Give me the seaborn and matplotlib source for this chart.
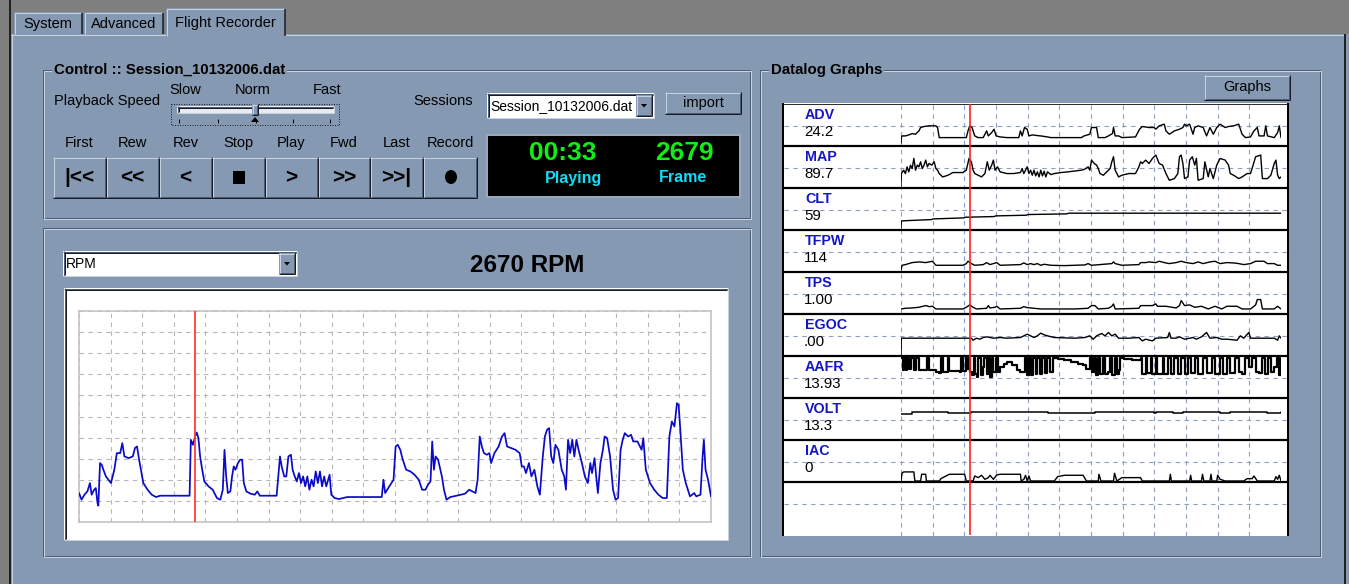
import matplotlib
matplotlib.use("Agg")
import matplotlib.pyplot as plt
from matplotlib.patches import Rectangle, Polygon, Ellipse
import numpy as np
import seaborn as sns

# ---------------- data ----------------
tab_labels = ["System", "Advanced", "Flight Recorder"]
control_title = "Control :: Session_10132006.dat"
speed_labels = ["Slow", "Norm", "Fast"]
session_file = "Session_10132006.dat"
button_labels = ["First", "Rew", "Rev", "Stop", "Play", "Fwd", "Last", "Record"]
button_symbols = ["|<<", "<<", "<", "\u25A0", ">", ">>", ">>|", "\u25CF"]
elapsed_time = "00:33"
frame_number = "2679"
channel_name = "RPM"
current_rpm = 2670

# RPM trace: (sample, rpm)
rpm_cursor = 276
rpm_tmax = 1503
rpm_ymax = 6340
rpm_trace = [
    (0,870),(6,670),(13,820),(20,920),(26,1170),(30,820),(36,970),(40,1020),(44,570),(46,490),
    (50,1770),(54,1720),(58,1570),(64,1370),(70,1270),(76,1170),(80,1370),(84,1570),(90,2070),(98,2070),
    (103,2370),(108,1970),(118,1920),(128,1970),(133,2220),(138,2270),(143,1870),(148,1520),(153,1170),(163,970),
    (173,820),(183,750),(193,790),(263,790),(266,2470),(271,2320),(276,2570),(280,2690),(284,2520),(288,1970),
    (293,1570),(298,1220),(308,1070),(318,970),(328,720),(336,670),(342,970),(346,2170),(350,1370),(354,870),
    (360,920),(364,1370),(368,1670),(372,1570),(378,1770),(383,1870),(388,1870),(392,1170),(398,920),(408,850),
    (418,820),(424,920),(430,790),(470,790),(474,1370),(478,1970),(482,1670),(488,1370),(493,1370),(498,1970),
    (504,2020),(508,1570),(513,1370),(518,1220),(523,1470),(528,1170),(533,1370),(538,1070),(543,1370),(548,970),
    (553,1270),(558,1070),(563,1520),(568,1170),(573,1520),(578,1070),(583,1370),(588,1070),(596,1420),(600,820),
    (608,720),(618,690),(638,750),(720,750),(724,1270),(728,870),(733,970),(748,1270),(753,2270),(758,2320),
    (764,2170),(770,1870),(778,1570),(788,1520),(798,1420),(808,1270),(816,970),(824,970),(830,1120),(836,1220),
    (840,2420),(844,1570),(848,1970),(854,1870),(863,1370),(868,970),(874,670),(883,750),(898,790),(918,850),
    (928,970),(943,870),(948,1270),(953,2570),(958,2270),(963,2070),(970,2020),(976,2070),(980,1770),(988,2070),
    (998,2270),(1006,2570),(1012,2670),(1018,2270),(1028,2220),(1038,2170),(1048,2070),(1053,1670),(1058,1670),(1063,1470),
    (1070,1770),(1076,1370),(1083,1570),(1090,1070),(1096,820),(1103,1970),(1108,2570),(1113,2770),(1118,2820),(1123,1970),
    (1128,1770),(1133,2320),(1140,2170),(1148,1570),(1154,1370),(1158,970),(1163,2470),(1168,2070),(1173,2470),(1178,1970),
    (1183,2470),(1188,2170),(1196,1770),(1203,1370),(1210,1170),(1216,1770),(1220,1470),(1226,1920),(1230,1370),(1234,870),
    (1240,1770),(1246,2170),(1250,2570),(1256,2520),(1263,1970),(1270,970),(1276,670),(1282,720),(1288,2170),(1293,2470),
    (1298,2670),(1306,2570),(1313,2620),(1318,2420),(1328,2420),(1338,2170),(1342,2520),(1348,1570),(1358,1170),(1368,970),
    (1378,820),(1388,720),(1398,720),(1404,2570),(1410,3020),(1416,2870),(1422,3570),(1426,3520),(1430,2770),(1436,1570),
    (1443,1170),(1453,770),(1463,870),(1468,770),(1478,820),(1483,1970),(1486,2470),(1490,1570),(1496,1270),(1503,770),
]

# Datalog strips: (sample, level in strip units 0..125)
log_names = ["ADV", "MAP", "CLT", "TFPW", "TPS", "EGOC", "AAFR", "VOLT", "IAC"]
log_values = ["24.2", "89.7", "59", "114", "1.00", ".00", "13.93", "13.3", "0"]
log_cursor = 204
log_tmax = 1123
log_ymax = 125

adv = [(0,8),(1,25),(3,30),(13,30),(23,33),(33,37),(43,35),(53,45),(58,55),(68,58),(83,60),(103,60),(108,55),(113,25),
       (193,25),(198,45),(203,60),(210,55),(218,30),(228,25),(243,25),(253,45),(258,30),(268,40),(275,50),(281,30),
       (293,27),(313,25),(348,25),(353,45),(358,30),(365,55),(373,50),(378,30),(388,33),(403,31),(413,30),(433,27),
       (443,25),(533,25),(541,30),(558,35),(563,55),(578,55),(583,25),(603,25),(613,30),(625,37),(628,55),(633,30),
       (643,30),(653,25),(693,27),(705,50),(713,58),(733,55),(748,55),(753,50),(763,60),(778,65),(783,45),(793,35),
       (808,45),(823,50),(833,55),(838,65),(843,60),(853,65),(863,35),(868,55),(878,60),(893,55),(903,30),(913,55),
       (923,35),(933,55),(943,65),(958,55),(968,58),(983,60),(998,65),(1008,35),(1018,25),(1033,27),(1043,45),(1053,55),
       (1058,30),(1073,30),(1078,60),(1083,30),(1103,25),(1113,40),(1118,60),(1123,25)]
map_ = [(0,6),(1,43),(8,53),(13,43),(18,63),(23,48),(28,68),(33,58),(38,88),(43,53),(48,68),(53,63),(58,78),(63,58),
        (68,68),(73,83),(78,63),(83,73),(91,68),(98,78),(103,58),(108,53),(113,43),(123,33),(133,36),(143,40),(153,46),
        (183,46),(193,53),(201,88),(208,78),(213,53),(218,43),(228,38),(238,33),(248,43),(255,78),(261,53),(268,68),
        (273,83),(278,53),(285,63),(293,48),(313,43),(333,43),(353,46),(358,58),(363,43),(368,53),(373,63),(378,43),
        (383,53),(388,38),(393,53),(398,36),(403,48),(408,33),(413,53),(418,36),(423,50),(428,33),(433,48),(443,40),
        (453,43),(473,46),(493,48),(533,53),(543,56),(553,63),(558,53),(563,83),(571,73),(578,68),(583,58),(588,43),
        (598,38),(608,48),(618,58),(623,78),(628,93),(633,53),(638,43),(643,33),(653,38),(673,43),(693,43),(703,63),
        (708,78),(713,73),(723,83),(733,73),(743,88),(753,98),(763,73),(773,68),(783,43),(793,23),(808,28),(818,43),
        (823,93),(828,98),(833,73),(838,28),(848,33),(853,83),(861,93),(868,68),(873,88),(878,23),(893,28),(898,78),
        (908,33),(913,58),(923,28),(933,68),(943,88),(958,83),(968,68),(973,43),(983,38),(998,28),(1008,33),(1023,43),
        (1033,43),(1048,93),(1063,98),(1068,28),(1083,28),(1093,38),(1103,73),(1108,83),(1113,38),(1118,28),(1123,33)]
clt = [(0,5),(1,27),(20,28),(90,31),(95,33),(185,36),(190,38),(275,40),(280,42),(370,44),(375,46),(490,48),(495,50),
       (1123,50)]
tfpw = [(0,5),(3,20),(13,22),(33,28),(53,30),(73,28),(93,32),(103,20),(183,20),(193,25),(198,32),(208,25),(218,20),
        (243,22),(253,28),(263,22),(273,25),(283,28),(293,20),(353,22),(363,27),(373,22),(383,25),(393,22),(403,25),
        (413,20),(423,23),(443,20),(483,19),(543,21),(553,25),(563,20),(623,25),(628,30),(633,25),(653,20),(703,22),
        (708,28),(723,28),(733,30),(753,28),(763,32),(778,28),(793,25),(813,28),(828,32),(843,28),(863,25),(878,30),
        (893,25),(913,30),(928,32),(943,25),(963,28),(983,27),(998,25),(1013,22),(1033,25),(1048,32),(1073,32),
        (1083,25),(1103,25),(1113,20),(1123,20)]
tps = [(0,15),(13,17),(33,18),(53,20),(73,25),(83,22),(93,23),(103,15),(183,15),(193,20),(203,27),(213,20),(223,15),
       (253,17),(258,25),(263,18),(278,20),(283,23),(293,15),(353,17),(363,22),(373,19),(393,17),(413,15),(513,15),
       (553,17),(563,25),(573,25),(583,15),(613,17),(623,23),(628,30),(633,15),(703,17),(708,25),(743,25),(753,30),
       (758,23),(783,23),(813,18),(823,25),(828,40),(838,25),(853,27),(868,20),(888,23),(908,15),(928,23),(948,15),
       (963,23),(993,23),(1008,15),(1033,15),(1048,27),(1053,43),(1063,43),(1068,15),(1103,15),(1113,23),(1123,15)]
egoc = [(0,0),(1,53),(208,53),(213,47),(223,53),(233,50),(243,55),(253,57),(273,53),(293,55),(313,53),(353,55),
        (363,60),(373,65),(383,60),(393,55),(403,60),(413,68),(423,63),(433,60),(453,55),(513,53),(543,55),(558,60),
        (568,50),(578,60),(593,67),(603,60),(613,70),(623,60),(633,65),(643,53),(673,53),(703,55),(713,45),(723,50),
        (743,45),(753,53),(788,55),(793,70),(798,53),(813,53),(823,57),(838,50),(863,55),(873,50),(888,57),(903,70),
        (913,53),(933,55),(948,50),(963,50),(993,47),(1003,60),(1013,53),(1028,70),(1033,53),(1063,53),(1103,53),
        (1113,47),(1118,60),(1123,53)]
aafr = [(0,120),(5,82),(9,120),(15,82),(19,120),(25,87),(31,120),(38,82),(43,120),(53,82),(73,82),(78,120),(83,82),
        (103,77),(113,74),(118,120),(123,77),(133,77),(138,120),(143,80),(173,77),(178,120),(183,80),(191,120),(195,87),
        (201,120),(205,77),(211,67),(215,120),(219,72),(225,62),(229,120),(235,67),(241,92),(245,120),(253,70),(258,120),
        (263,62),(268,120),(273,77),(281,120),(288,77),(293,92),(303,102),(313,107),(328,97),(343,82),(353,77),(365,120),
        (371,67),(378,120),(385,67),(391,120),(398,72),(403,120),(411,70),(418,120),(425,74),(431,120),(439,77),(448,120),
        (463,117),(483,112),(503,107),(523,102),(538,97),(548,87),(558,120),(563,77),(571,120),(575,67),(581,120),(588,72),
        (598,120),(603,70),(613,77),(618,120),(625,67),(633,120),(638,70),(643,82),(648,120),(658,117),(683,114),(698,112),
        (708,120),(713,72),(723,120),(728,74),(738,120),(743,72),(753,120),(758,70),(773,120),(778,72),(788,120),(798,70),
        (808,120),(818,72),(828,120),(838,70),(848,120),(858,74),(868,120),(878,70),(893,120),(903,74),(918,120),(928,72),
        (943,120),(953,70),(963,120),(973,74),(988,120),(998,77),(1008,70),(1018,120),(1028,92),(1038,120),(1048,77),
        (1058,74),(1068,120),(1075,72),(1085,120),(1093,77),(1103,92),(1111,120),(1116,67),(1123,120)]
volt = [(0,78),(23,78),(33,83),(133,83),(138,79),(203,79),(208,83),(428,83),(433,79),(568,79),(573,83),(743,83),
        (748,79),(753,83),(798,83),(803,79),(828,79),(833,83),(938,83),(943,79),(968,79),(973,83),(1078,83),(1083,79),
        (1118,79),(1123,83)]
iac = [(0,3),(3,26),(8,30),(38,30),(41,3),(58,3),(61,23),(73,23),(75,3),(113,3),(118,10),(133,18),(143,23),(188,23),
       (193,3),(213,3),(218,18),(228,13),(238,20),(248,8),(258,13),(263,20),(273,8),(283,21),(293,23),(353,23),(355,3),
       (363,8),(368,20),(373,3),(378,18),(383,3),(453,3),(463,16),(483,20),(538,20),(548,3),(583,3),(585,23),(591,3),
       (628,3),(631,26),(638,3),(653,13),(708,13),(713,3),(793,3),(796,23),(799,3),(853,3),(856,20),(859,3),(888,3),
       (891,23),(895,3),(913,3),(916,23),(919,3),(933,3),(936,20),(943,8),(958,3),(1013,3),(1023,10),(1038,10),
       (1043,18),(1053,3),(1103,3),(1108,16),(1113,8),(1118,20),(1123,3)]
log_series = [adv, map_, clt, tfpw, tps, egoc, aafr, volt, iac]

# ---------------- styling ----------------
W, H = 1349, 584
sns.set_theme(style="white")
plt.rcParams['font.family'] = ['Liberation Sans', 'DejaVu Sans']

PANEL = '#8599B2'
LIGHT = '#C8D2E0'
DARK = '#4E5C74'
DARKER = '#161B26'
GRAYBG = '#7F7F7F'


def P(px):
    return px * 0.72


def frect(x0, y0, x1, y1):
    return [x0 / W, 1 - y1 / H, (x1 - x0) / W, (y1 - y0) / H]


fig = plt.figure(figsize=(W / 100, H / 100), dpi=100)
fig.patch.set_facecolor(PANEL)
ui = fig.add_axes([0, 0, 1, 1], zorder=0)
ui.set_xlim(0, W)
ui.set_ylim(H, 0)
ui.axis('off')


def line(x0, y0, x1, y1, c, w=1, z=2, ax=None, ls='-'):
    (ax or ui).plot([x0, x1], [y0, y1], color=c, lw=P(w), zorder=z,
                    solid_capstyle='butt', ls=ls)


def box(x0, y0, x1, y1, fc, z=1, ax=None):
    (ax or ui).add_patch(Rectangle((x0, y0), x1 - x0, y1 - y0, fc=fc, ec='none', zorder=z))


def raised(x0, y0, x1, y1, z=2):
    box(x0, y0, x1, y1, PANEL, z)
    line(x0, y0 + 0.5, x1, y0 + 0.5, LIGHT, 1, z + .1)
    line(x0 + 0.5, y0, x0 + 0.5, y1, LIGHT, 1, z + .1)
    line(x0, y1 - 0.5, x1, y1 - 0.5, DARKER, 1, z + .1)
    line(x1 - 0.5, y0, x1 - 0.5, y1, DARKER, 1, z + .1)
    line(x0 + 1, y1 - 1.5, x1 - 1, y1 - 1.5, DARK, 1, z + .1)
    line(x1 - 1.5, y0 + 1, x1 - 1.5, y1 - 1, DARK, 1, z + .1)


def sunken(x0, y0, x1, y1, fc='white', z=2):
    box(x0, y0, x1, y1, fc, z)
    line(x0, y0 + 0.5, x1, y0 + 0.5, DARK, 1, z + .1)
    line(x0 + 0.5, y0, x0 + 0.5, y1, DARK, 1, z + .1)
    line(x0 + 1, y0 + 1.5, x1 - 1, y0 + 1.5, DARKER, 1, z + .1)
    line(x0 + 1.5, y0 + 1, x0 + 1.5, y1 - 1, DARKER, 1, z + .1)
    line(x0, y1 - 0.5, x1, y1 - 0.5, LIGHT, 1, z + .1)
    line(x1 - 0.5, y0, x1 - 0.5, y1, LIGHT, 1, z + .1)


def group(x0, y0, x1, y1):
    ui.add_patch(Rectangle((x0, y0), x1 - x0, y1 - y0, fill=False, ec=DARK, lw=P(1), zorder=1.5))
    ui.add_patch(Rectangle((x0 + 1, y0 + 1), x1 - x0, y1 - y0, fill=False, ec=LIGHT, lw=P(1), zorder=1.5))


def txt(x, y, s, size=10, weight='normal', color='black', ha='left', z=6, bg=None, ax=None, family=None):
    kw = {}
    if bg is not None:
        kw['bbox'] = dict(fc=bg, ec='none', pad=1.5)
    if family is not None:
        kw['family'] = family
    (ax or ui).text(x, y, s, fontsize=size, fontweight=weight, color=color, ha=ha, va='center',
                    zorder=z, **kw)


def combo(x0, y0, x1, y1, label):
    sunken(x0, y0, x1, y1, 'white', 2)
    raised(x1 - 18, y0 + 2, x1 - 2, y1 - 2, 3)
    cx, cy = x1 - 10, (y0 + y1) / 2
    ui.add_patch(Polygon([[cx - 3, cy - 1.5], [cx + 3, cy - 1.5], [cx, cy + 2]], fc='black', ec='none', zorder=4))
    txt(x0 + 3, (y0 + y1) / 2 + 0.5, label, 10)


# ---------------- window chrome ----------------
box(0, 0, W, 35, GRAYBG, 0.5)
box(0, 0, 10, H, GRAYBG, 0.5)
box(11, 34, 1345, H, PANEL, 0.6)
line(11, 34.5, 1345, 34.5, LIGHT, 1, 0.7)
line(11.5, 34, 11.5, H, LIGHT, 1, 0.7)
line(9.5, 0, 9.5, H, '#202020', 2, 0.7)
line(1344.5, 34, 1344.5, H, '#202020', 2, 0.7)
box(1346, 34, W, H, PANEL, 0.6)

# tabs
tabs = [(14, 82, 12), (84, 163, 12), (166, 285, 8)]
for (x0, x1, y0), lab in zip(tabs, tab_labels):
    sel = lab == "Flight Recorder"
    y1 = 36 if sel else 34
    box(x0, y0, x1, y1, PANEL, 1)
    line(x0 + 0.5, y0 + 1, x0 + 0.5, y1, LIGHT, 1, 1.1)
    line(x0 + 1, y0 + 0.5, x1 - 1, y0 + 0.5, LIGHT, 1, 1.1)
    line(x1 - 0.5, y0 + 1, x1 - 0.5, y1, DARKER, 1.5, 1.1)
    txt((x0 + x1) / 2, (y0 + y1) / 2 + 1, lab, 10.5, ha='center')

# ---------------- control group ----------------
group(43, 70, 750, 218)
txt(54, 70, control_title, 10.8, 'bold', bg=PANEL)
txt(54, 101, "Playback Speed", 10.5)
for xc, lab in zip([185, 253, 327], speed_labels):
    txt(xc, 90, lab, 10.5, ha='center')
ui.add_patch(Rectangle((170.5, 103.5), 168, 21, fill=False, ec='#202020', lw=P(1), ls=(0, (1, 1.5)), zorder=3))
sunken(177, 106, 334, 113, '#E8ECF2', 3)
raised(252, 104, 258, 115, 4)
ui.add_patch(Polygon([[251, 122], [259, 122], [255, 117]], fc='black', ec='none', zorder=4))
for xt in [179, 218, 256, 293, 330]:
    line(xt, 119, xt, 123, 'black', 1, 4)
txt(413, 101, "Sessions", 10.5)
combo(487, 93, 654, 118, session_file)
raised(665, 92, 741, 114, 2)
txt(703, 103.5, "import", 10.5, ha='center')

# transport buttons
edges = [53, 106, 159, 212, 265, 318, 370, 423, 477]
for i, (lab, sym) in enumerate(zip(button_labels, button_symbols)):
    x0, x1 = edges[i], edges[i + 1]
    raised(x0, 157, x1, 198, 2)
    txt((x0 + x1) / 2, 143, lab, 10.5, ha='center')
    if sym == "\u25A0":
        box((x0 + x1) / 2 - 6, 171, (x0 + x1) / 2 + 6, 184, 'black', 4)
    elif sym == "\u25CF":
        ui.add_patch(Ellipse(((x0 + x1) / 2 + 1, 177), 12, 14, fc='black', ec='none', zorder=4))
    else:
        txt((x0 + x1) / 2, 177.5, sym, 15, 'bold', ha='center')

# black display
box(486, 134, 741, 198, '#9AA8BC', 2)
box(488, 136, 739, 196, 'black', 2.1)
txt(563, 153, elapsed_time, 19, 'bold', '#11EE11', ha='center')
txt(684, 153, frame_number, 19, 'bold', '#11EE11', ha='center')
txt(574, 178, "Playing", 11.5, 'bold', '#10DDF5', ha='center')
txt(683, 178, "Frame", 11.5, 'bold', '#10DDF5', ha='center')

# ---------------- RPM group ----------------
group(43, 228, 750, 556)
combo(63, 251, 297, 276, channel_name)
txt(527, 265, f"{current_rpm} RPM", 17.5, 'bold', ha='center')
sunken(64, 288, 728, 540, 'white', 2)

ax_rpm = fig.add_axes(frect(79, 311, 711, 522), zorder=2)
ax_rpm.set_facecolor('white')
rpm_t = [p[0] for p in rpm_trace]
rpm_v = [p[1] for p in rpm_trace]
sns.lineplot(x=rpm_t, y=rpm_v, ax=ax_rpm, color='#0A0AC8', lw=1.25, estimator=None, zorder=3)
ax_rpm.axvline(rpm_cursor, color='#FF3B3B', lw=1.3, zorder=4)
ax_rpm.set_xlim(0, rpm_tmax)
ax_rpm.set_ylim(0, rpm_ymax)
ax_rpm.set_xticks(np.linspace(0, rpm_tmax, 21))
ax_rpm.set_yticks(np.linspace(0, rpm_ymax, 11))
ax_rpm.grid(True, color='#B8B8B8', lw=0.8, ls=(0, (4, 4)))
ax_rpm.tick_params(length=0, labelbottom=False, labelleft=False)
ax_rpm.set_xlabel('')
ax_rpm.set_ylabel('')
for s in ax_rpm.spines.values():
    s.set_color('#C4C4C4')
    s.set_linewidth(1.2)

# ---------------- Datalog group ----------------
group(760, 70, 1320, 556)
txt(771, 70, "Datalog Graphs", 10.8, 'bold', bg=PANEL)
raised(1204, 75, 1290, 100, 2)
txt(1247, 87.5, "Graphs", 10.5, ha='center')

DL_X0, DL_X1, DL_Y0, DL_Y1 = 782, 1289, 103, 536
ax_dl = fig.add_axes(frect(DL_X0, DL_Y0, DL_X1, DL_Y1), zorder=1)
ax_dl.set_xlim(DL_X0, DL_X1)
ax_dl.set_ylim(DL_Y1, DL_Y0)
ax_dl.axis('off')
ax_dl.add_patch(Rectangle((DL_X0, DL_Y0), DL_X1 - DL_X0, DL_Y1 - DL_Y0, fc='white', ec='none', zorder=0))
GRIDB = '#8F9DC2'
STRIP_T, STRIP_H = 104, 42
for k in range(len(log_names) + 1):
    yy = STRIP_T + STRIP_H * k + 22
    ax_dl.plot([DL_X0 + 2, DL_X1 - 2], [yy, yy], color=GRIDB, lw=0.8, ls=(0, (4, 4)), zorder=1)
for i, (nm, val) in enumerate(zip(log_names, log_values)):
    top = STRIP_T + STRIP_H * i
    txt(805, top + 11, nm, 10.3, 'bold', '#1515C8', ax=ax_dl)
    txt(804, top + 28, val, 10.8, ax=ax_dl)

LX0, LX1 = 901, 1281
ax_log = fig.add_axes(frect(LX0, DL_Y0 + 1, LX1, DL_Y1), zorder=2)
ax_log.patch.set_alpha(0)
ax_log.set_xlim(0, log_tmax)
ax_log.set_xticks(np.linspace(0, log_tmax, 13))
ax_log.set_yticks([])
ax_log.grid(True, axis='x', color=GRIDB, lw=0.8, ls=(0, (4, 4)))
ax_log.tick_params(length=0, labelbottom=False)
for s in ax_log.spines.values():
    s.set_visible(False)

for i, series in enumerate(log_series):
    top = STRIP_T + STRIP_H * i
    ax = fig.add_axes(frect(LX0, top, LX1, top + STRIP_H), zorder=3)
    ax.patch.set_alpha(0)
    ax.axis('off')
    t = [p[0] for p in series]
    v = [p[1] for p in series]
    name = log_names[i]
    if name == "AAFR":
        sns.lineplot(x=t, y=v, ax=ax, color='black', lw=1.6, estimator=None, drawstyle='steps-post')
    elif name in ("VOLT",):
        sns.lineplot(x=t, y=v, ax=ax, color='black', lw=1.1, estimator=None, drawstyle='steps-post')
    else:
        sns.lineplot(x=t, y=v, ax=ax, color='black', lw=1.0, estimator=None)
    ax.set_xlim(0, log_tmax)
    ax.set_ylim(0, log_ymax)

ax_sep = fig.add_axes(frect(DL_X0, DL_Y0, DL_X1, DL_Y1), zorder=4)
ax_sep.set_xlim(DL_X0, DL_X1)
ax_sep.set_ylim(DL_Y1, DL_Y0)
ax_sep.axis('off')
for k in range(1, len(log_names) + 1):
    yy = STRIP_T + STRIP_H * k
    line(DL_X0, yy, DL_X1, yy, 'black', 2.2, 1, ax=ax_sep)
line(DL_X0, DL_Y0 + 0.5, DL_X1, DL_Y0 + 0.5, '#303030', 1, 1, ax=ax_sep)
line(DL_X0 + 1, DL_Y0, DL_X0 + 1, DL_Y1, 'black', 2, 1, ax=ax_sep)
line(DL_X1 - 1, DL_Y0, DL_X1 - 1, DL_Y1, 'black', 2, 1, ax=ax_sep)
line(DL_X0, DL_Y1 - 0.5, DL_X1, DL_Y1 - 0.5, LIGHT, 1, 1, ax=ax_sep)

ax_cur = fig.add_axes(frect(LX0, DL_Y0 + 1, LX1, DL_Y1 - 1), zorder=5)
ax_cur.patch.set_alpha(0)
ax_cur.axis('off')
ax_cur.set_xlim(0, log_tmax)
ax_cur.axvline(log_cursor, color='#FF2020', lw=1.2)

fig.savefig("out.png", dpi=100, facecolor=fig.get_facecolor())
